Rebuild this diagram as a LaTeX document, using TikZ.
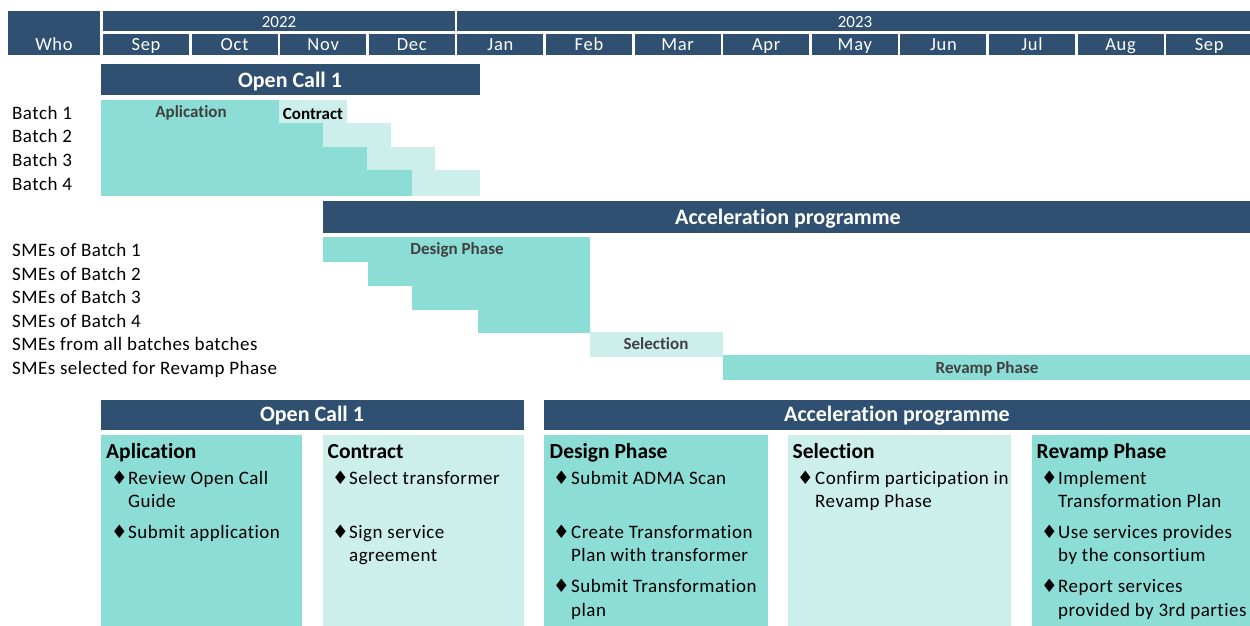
\documentclass[tikz,border=0pt]{standalone}
\usepackage{fontspec}
\setmainfont{Carlito}[Ligatures=NoCommon]
\newfontfamily\dvs{DejaVu Sans}
\definecolor{navy}{HTML}{2F5070}
\definecolor{tealA}{HTML}{8CDDD6}
\definecolor{tealB}{HTML}{CDEFEB}
\definecolor{lblgray}{HTML}{404040}
\tikzset{
  hdr/.style={fill=navy, draw=none, inner sep=0pt, outer sep=0pt, anchor=north west},
  dk/.style={fill=tealA, draw=none, inner sep=0pt, outer sep=0pt, anchor=north west},
  lt/.style={fill=tealB, draw=none, inner sep=0pt, outer sep=0pt, anchor=north west},
  txt/.style={anchor=base west, inner sep=0pt, text=black, font=\fontsize{19}{23}\selectfont\addfontfeature{LetterSpace=2.5}},
  hdrtxt/.style={anchor=base, inner sep=0pt, text=white, font=\fontsize{18.5}{22}\selectfont\addfontfeature{LetterSpace=4}},
  bigtxt/.style={anchor=base, inner sep=0pt, text=white, font=\bfseries\fontsize{22}{26}\selectfont},
  bartxt/.style={anchor=base, inner sep=0pt, text=lblgray, font=\bfseries\fontsize{17}{20}\selectfont},
  ttl/.style={anchor=base west, inner sep=0pt, text=black, font=\bfseries\fontsize{21.5}{26}\selectfont},
  bul/.style={anchor=base west, inner sep=0pt, text=black, font=\dvs\fontsize{18.5}{20}\selectfont},
}
\newcommand{\rbox}[6]{\node[#1, minimum width={(#5-#3)*1pt}, minimum height={(#6-#4)*1pt}] (#2) at (#3,#4) {};}
\begin{document}
\begin{tikzpicture}[x=1pt, y=-1pt]
\useasboundingbox (0,0) rectangle (1250,625);
% ---------- header ----------
\rbox{hdr}{who}{8}{11}{100}{55}
\node[hdrtxt] (whot) at (54,50) {Who};
\rbox{hdr}{y22}{103}{11}{455}{31}
\node[hdrtxt, font=\fontsize{17}{20}\selectfont] (y22t) at (279,27) {2022};
\rbox{hdr}{y23}{457.4}{11}{1252}{31}
\node[hdrtxt, font=\fontsize{17}{20}\selectfont] (y23t) at (855,27) {2023};
\foreach \m [count=\i from 0] in {Sep,Oct,Nov,Dec,Jan,Feb,Mar,Apr,May,Jun,Jul,Aug,Sep}{
  \pgfmathsetmacro\xl{103+88.6*\i}
  \node[hdr, minimum width=86pt, minimum height=21pt] (m\i) at (\xl,34) {};
  \node[hdrtxt] (mt\i) at (\xl+43,50) {\m};
}
% ---------- Open Call 1 gantt ----------
\rbox{hdr}{oc}{101}{64}{480}{95}
\node[bigtxt] (oct) at (290,87) {Open Call 1};
\rbox{dk}{b1a}{101}{99.5}{279}{123}
\rbox{lt}{b1b}{279}{99.5}{347}{123}
\rbox{dk}{b2a}{101}{123}{323}{146.5}
\rbox{lt}{b2b}{323}{123}{391}{146.5}
\rbox{dk}{b3a}{101}{146.5}{367}{170}
\rbox{lt}{b3b}{367}{146.5}{435}{170}
\rbox{dk}{b4a}{101}{170}{412}{196}
\rbox{lt}{b4b}{412}{170}{480}{196}
\node[bartxt] (aplt) at (191,117) {Aplication};
\node[bartxt, text=black] (cont) at (313,119) {Contract};
\node[txt] (l1) at (12,119) {Batch 1};
\node[txt] (l2) at (12,142.5) {Batch 2};
\node[txt] (l3) at (12,166) {Batch 3};
\node[txt] (l4) at (12,190) {Batch 4};
% ---------- Acceleration gantt ----------
\rbox{hdr}{ap}{323}{201}{1252}{233}
\node[bigtxt] (apt) at (788,224) {Acceleration programme};
\rbox{dk}{d1}{323}{236.5}{590}{261.5}
\rbox{dk}{d2}{367.5}{261}{590}{285.5}
\rbox{dk}{d3}{412}{285}{590}{309.5}
\rbox{dk}{d4}{478}{309}{590}{332.5}
\rbox{lt}{sel}{590}{331.5}{723}{356.5}
\rbox{dk}{rev}{723}{354.5}{1252}{380}
\node[bartxt] (dpt) at (457,254) {Design Phase};
\node[bartxt] (selt) at (656,349) {Selection};
\node[bartxt] (revt) at (987,373) {Revamp Phase};
\node[txt] (s1) at (12,256) {SMEs of Batch 1};
\node[txt] (s2) at (12,280) {SMEs of Batch 2};
\node[txt] (s3) at (12,303.5) {SMEs of Batch 3};
\node[txt] (s4) at (12,327) {SMEs of Batch 4};
\node[txt] (s5) at (12,350.5) {SMEs from all batches batches};
\node[txt] (s6) at (12,374) {SMEs selected for Revamp Phase};
% ---------- bottom panels ----------
\rbox{hdr}{boc}{101}{399.5}{523.5}{430}
\node[bigtxt] (boct) at (312,421) {Open Call 1};
\rbox{hdr}{bap}{544}{399.5}{1252}{430}
\node[bigtxt] (bapt) at (897,421) {Acceleration programme};
\rbox{dk}{pA}{101}{435}{302}{630}
\rbox{lt}{pC}{323}{435}{523.5}{630}
\rbox{dk}{pD}{544}{435}{767.5}{630}
\rbox{lt}{pS}{788}{435}{1010.5}{630}
\rbox{dk}{pR}{1032}{435}{1252}{630}
\node[ttl] (pAt) at (106,458) {Aplication};
\node[ttl] (pCt) at (327.5,458) {Contract};
\node[ttl] (pDt) at (549.5,458) {Design Phase};
\node[ttl] (pSt) at (792.5,458) {Selection};
\node[ttl] (pRt) at (1036.5,458) {Revamp Phase};
% Aplication items
\node[bul] (bA1) at (111,484) {♦};
\node[txt] (tA1) at (128,484) {Review Open Call};
\node[txt] (tA1b) at (128,507.5) {Guide};
\node[bul] (bA2) at (111,538) {♦};
\node[txt] (tA2) at (128,538) {Submit application};
% Contract items
\node[bul] (bC1) at (332,484) {♦};
\node[txt] (tC1) at (349,484) {Select transformer};
\node[bul] (bC2) at (332,538) {♦};
\node[txt] (tC2) at (349,538) {Sign service};
\node[txt] (tC2b) at (349,561.5) {agreement};
% Design items
\node[bul] (bD1) at (553,484) {♦};
\node[txt] (tD1) at (571,484) {Submit ADMA Scan};
\node[bul] (bD2) at (553,538) {♦};
\node[txt] (tD2) at (571,538) {Create Transformation};
\node[txt] (tD2b) at (571,561.5) {Plan with transformer};
\node[bul] (bD3) at (553,592.5) {♦};
\node[txt] (tD3) at (571,592.5) {Submit Transformation};
\node[txt] (tD3b) at (571,616) {plan};
% Selection items
\node[bul] (bS1) at (797,484) {♦};
\node[txt] (tS1) at (815,484) {Confirm participation in};
\node[txt] (tS1b) at (815,507.5) {Revamp Phase};
% Revamp items
\node[bul] (bR1) at (1041,484) {♦};
\node[txt] (tR1) at (1058,484) {Implement};
\node[txt] (tR1b) at (1058,507.5) {Transformation Plan};
\node[bul] (bR2) at (1041,538) {♦};
\node[txt] (tR2) at (1058,538) {Use services provides};
\node[txt] (tR2b) at (1058,561.5) {by the consortium};
\node[bul] (bR3) at (1041,592.5) {♦};
\node[txt] (tR3) at (1058,592.5) {Report services};
\node[txt] (tR3b) at (1058,616) {provided by 3rd parties};
\end{tikzpicture}
\end{document}
